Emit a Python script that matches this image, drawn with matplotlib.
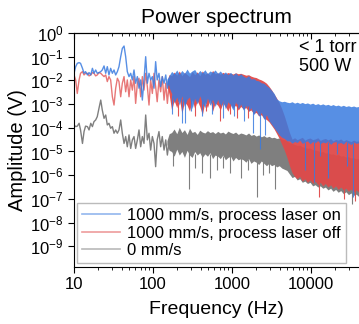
import numpy as np
import matplotlib
matplotlib.use('Agg')
import matplotlib.pyplot as plt
from matplotlib.lines import Line2D
from matplotlib.ticker import NullFormatter, FuncFormatter

plt.rcParams['font.family'] = ['Liberation Sans', 'DejaVu Sans']

# low frequency part (Hz), values are log10(amplitude / V)
low_f = [10.0, 10.5, 11.0, 11.6, 12.1, 12.8, 13.4, 14.0, 14.8, 15.5,
         16.3, 17.1, 17.9, 18.8, 19.7, 20.7, 21.8, 22.8, 24.0, 25.2,
         26.4, 27.7, 29.1, 30.6, 32.1, 33.7, 35.4, 37.1, 39.0, 40.9,
         43.0, 45.1, 47.3, 49.7, 52.2, 54.8, 57.5, 60.3, 63.4, 66.5,
         69.8, 73.3, 76.9, 80.8, 84.8, 89.0, 93.4, 98.1, 103, 108,
         113, 119, 125, 131, 138, 145, 152, 159]

on_low = [-1.70, -1.42, -1.28, -1.25, -1.28, -1.49, -1.70, -1.63, -1.77, -1.67,
          -1.77, -1.49, -1.70, -1.56, -1.70, -1.67, -1.63, -1.56, -1.39, -1.70,
          -1.42, -1.77, -1.49, -1.70, -1.56, -1.77, -1.63, -1.42, -1.00, -0.65,
          -0.55, -1.00, -1.63, -1.84, -1.70, -1.98, -1.56, -2.12, -1.84, -2.33,
          -1.98, -2.83, -1.98, -1.00, -2.12, -1.70, -1.98, -1.84, -2.33, -1.21,
          -1.98, -1.70, -2.26, -1.84, -2.12, -1.77, -2.33, -1.98]

off_low = [-1.77, -1.98, -2.55, -1.98, -1.70, -1.63, -1.77, -1.70, -1.70, -1.81,
           -1.77, -1.67, -1.70, -1.81, -1.77, -1.67, -1.70, -1.77, -1.84, -1.77,
           -2.05, -1.84, -1.98, -2.69, -3.04, -2.33, -1.91, -2.05, -2.69, -2.12,
           -1.84, -2.48, -1.98, -2.69, -1.98, -2.41, -1.84, -2.97, -2.12, -1.91,
           -2.69, -1.84, -2.41, -1.70, -2.26, -3.04, -1.98, -2.55, -1.70, -2.26,
           -2.90, -1.98, -2.48, -1.84, -2.83, -2.12, -2.97, -2.26]

zero_low = [-3.88, -3.95, -3.93, -3.81, -4.09, -4.66, -4.16, -3.93, -3.95, -4.09,
            -3.81, -3.95, -3.74, -3.67, -3.53, -3.18, -2.83, -3.25, -3.60, -3.46,
            -3.88, -3.81, -4.02, -3.95, -4.23, -4.09, -4.23, -4.09, -3.67, -4.23,
            -4.66, -4.37, -4.80, -4.30, -4.87, -4.51, -4.37, -4.87, -4.51, -4.09,
            -4.80, -4.37, -4.66, -3.46, -4.51, -4.23, -4.94, -4.37, -4.66, -5.64,
            -4.51, -4.16, -4.80, -4.37, -4.94, -4.51, -5.15, -4.66]

# dense part: upper / lower edge of the noisy band
band_f = [150, 160, 172, 185, 200, 215, 232, 250, 270, 290,
          313, 337, 363, 391, 421, 454, 489, 527, 568, 612,
          660, 711, 766, 825, 889, 958, 1030, 1110, 1200, 1290,
          1390, 1500, 1620, 1740, 1880, 2020, 2180, 2350, 2530, 2730,
          2940, 3170, 3410, 3680, 3960, 4270, 4600, 4960, 5340, 5760,
          6200, 6690, 7200, 7760, 8370, 9020, 9720, 10500, 11300, 12200,
          13100, 14100, 15200, 16400, 17700, 19000, 20500, 22100, 23800, 25700,
          27700, 29800, 32100, 34600, 37300, 40200]

on_hi = [-1.95, -1.80, -1.62, -1.72, -1.56, -1.74, -1.58, -1.70, -1.52, -1.69,
         -1.60, -1.54, -1.72, -1.58, -1.68, -1.55, -1.71, -1.60, -1.66, -1.56,
         -1.70, -1.60, -1.74, -1.64, -1.76, -1.66, -1.78, -1.68, -1.80, -1.72,
         -1.82, -1.88, -1.80, -1.94, -1.92, -2.00, -2.02, -2.10, -2.12, -2.22,
         -2.30, -2.42, -2.55, -2.78, -2.86, -2.90, -2.88, -2.92, -2.94, -2.90,
         -2.96, -2.92, -2.97, -2.93, -2.98, -2.95, -3.00, -2.96, -3.02, -2.98,
         -3.03, -2.99, -3.04, -3.01, -3.06, -3.02, -3.07, -3.04, -3.09, -3.05,
         -3.10, -3.07, -3.11, -3.08, -3.12, -3.10]
on_lo = [-2.05, -2.30, -2.55, -2.95, -2.70, -3.05, -2.65, -3.10, -2.80, -2.70,
         -3.20, -2.75, -3.00, -2.65, -2.95, -3.15, -2.75, -3.05, -2.80, -3.10,
         -2.80, -3.15, -2.85, -3.20, -2.90, -3.05, -3.25, -2.90, -3.20, -3.00,
         -3.25, -3.05, -3.30, -3.15, -3.45, -3.25, -3.50, -3.35, -3.65, -3.45,
         -3.70, -3.85, -4.00, -4.15, -4.30, -4.40, -4.45, -4.55, -4.55, -4.65,
         -4.58, -4.62, -4.52, -4.66, -4.60, -4.55, -4.68, -4.58, -4.63, -4.54,
         -4.67, -4.60, -4.64, -4.56, -4.70, -4.61, -4.58, -4.66, -4.62, -4.69,
         -4.57, -4.65, -4.71, -4.60, -4.66, -4.63]

off_hi = [-2.05, -1.75, -1.80, -1.65, -1.78, -1.60, -1.80, -1.66, -1.75, -1.84,
          -1.62, -1.76, -1.64, -1.80, -1.60, -1.74, -1.68, -1.78, -1.58, -1.72,
          -1.68, -1.74, -1.66, -1.72, -1.67, -1.70, -1.73, -1.68, -1.72, -1.70,
          -1.74, -1.78, -1.76, -1.82, -1.86, -1.88, -1.94, -1.98, -2.04, -2.12,
          -2.25, -2.40, -2.58, -2.75, -2.95, -3.20, -3.50, -3.85, -4.20, -4.48,
          -4.42, -4.50, -4.45, -4.40, -4.52, -4.46, -4.43, -4.50, -4.47, -4.42,
          -4.53, -4.48, -4.45, -4.51, -4.46, -4.55, -4.49, -4.52, -4.47, -4.56,
          -4.50, -4.54, -4.58, -4.52, -4.57, -4.55]
off_lo = [-2.15, -2.60, -3.25, -2.85, -3.15, -2.75, -3.40, -2.90, -3.05, -3.30,
          -2.80, -3.20, -2.85, -3.10, -3.45, -2.90, -3.15, -2.80, -3.30, -2.95,
          -3.05, -3.25, -2.95, -3.10, -3.30, -3.00, -3.15, -3.05, -3.25, -3.10,
          -3.20, -3.15, -3.30, -3.25, -3.40, -3.35, -3.50, -3.45, -3.60, -3.65,
          -3.75, -3.90, -4.05, -4.25, -4.45, -4.70, -4.95, -5.25, -5.60, -5.90,
          -6.05, -6.15, -6.05, -6.25, -6.15, -6.30, -6.20, -6.35, -6.25, -6.40,
          -6.30, -6.45, -6.35, -6.50, -6.40, -6.55, -6.45, -6.60, -6.50, -6.62,
          -6.55, -6.68, -6.58, -6.70, -6.62, -6.72]

zero_hi = [-4.55, -4.25, -4.20, -4.05, -4.25, -3.98, -4.20, -4.08, -4.28, -4.02,
           -4.20, -4.15, -4.28, -4.10, -4.18, -4.22, -4.12, -4.20, -4.16, -4.24,
           -4.15, -4.22, -4.18, -4.26, -4.14, -4.20, -4.24, -4.18, -4.28, -4.22,
           -4.25, -4.30, -4.22, -4.32, -4.28, -4.35, -4.30, -4.38, -4.33, -4.40,
           -4.36, -4.42, -4.40, -4.45, -4.43, -4.48, -4.50, -4.55, -4.62, -4.66,
           -4.70, -4.74, -4.73, -4.80, -4.83, -4.86, -4.85, -4.92, -4.94, -4.96,
           -5.02, -5.00, -5.06, -5.05, -5.11, -5.10, -5.15, -5.13, -5.19, -5.18,
           -5.23, -5.22, -5.27, -5.26, -5.31, -5.30]
zero_lo = [-4.70, -4.95, -5.00, -5.20, -4.90, -5.15, -5.00, -5.25, -4.95, -5.15,
           -5.25, -5.00, -5.15, -5.05, -5.25, -5.10, -5.20, -5.05, -5.30, -5.15,
           -5.20, -5.30, -5.15, -5.35, -5.25, -5.20, -5.40, -5.25, -5.35, -5.30,
           -5.35, -5.45, -5.30, -5.50, -5.40, -5.45, -5.55, -5.40, -5.50, -5.60,
           -5.50, -5.60, -5.55, -5.65, -5.60, -5.70, -5.75, -5.80, -5.95, -6.10,
           -6.05, -6.20, -6.15, -6.30, -6.25, -6.35, -6.30, -6.45, -6.40, -6.50,
           -6.45, -6.55, -6.50, -6.62, -6.55, -6.68, -6.60, -6.72, -6.65, -6.78,
           -6.70, -6.82, -6.75, -6.85, -6.80, -6.90]

# single deep dips
on_spike_f = [175, 233, 254, 305, 420, 560, 780, 1050, 1400, 1840, 2250, 2600,
              8400, 10800, 13000, 16400, 21300, 28600, 34000]
on_spike_top = [-2.6, -2.8, -2.8, -2.8, -2.8, -2.9, -2.9, -3.0, -3.1, -3.3, -3.4, -3.5,
                -4.6, -4.6, -4.6, -4.6, -4.6, -4.6, -4.6]
on_spike_bot = [-3.4, -3.8, -3.8, -3.3, -3.5, -3.4, -3.6, -3.5, -3.7, -4.2, -4.9, -4.3,
                -5.8, -6.3, -5.2, -6.1, -5.1, -5.6, -6.9]
off_spike_f = [205, 340, 470, 700, 930, 1150, 1600, 12500, 26000, 36500]
off_spike_top = [-2.9, -2.9, -3.0, -3.0, -3.0, -3.0, -3.1, -6.3, -6.5, -6.6]
off_spike_bot = [-3.5, -3.5, -3.3, -3.7, -3.4, -3.6, -3.6, -6.9, -7.0, -7.1]
zero_spike_f = [180, 286, 340, 417, 525, 645, 780, 950, 1290, 1600, 2070, 2460, 2900, 3500, 33000]
zero_spike_top = [-5.0, -5.0, -5.1, -5.0, -5.1, -5.1, -5.2, -5.2, -5.2, -5.3, -5.3, -5.3, -5.4, -5.5, -6.7]
zero_spike_bot = [-5.6, -6.6, -5.7, -5.9, -6.1, -5.8, -5.7, -5.9, -6.1, -5.8, -6.9, -6.0, -5.9, -6.6, -7.2]

labels = ['1000 mm/s, process laser on', '1000 mm/s, process laser off', '0 mm/s']
c_on, c_off, c_zero = '#3a7be0', '#e04a4a', '#7f7f7f'

fig = plt.figure(figsize=(3.59, 3.24), dpi=100)
ax = fig.add_axes([74 / 359, 57 / 324, 285 / 359, 234 / 324])


def draw(low, hi, lo, sf, stop, sbot, color, a_line, a_band):
    ax.plot(low_f, 10 ** np.array(low), color=color, lw=1.0, alpha=a_line)
    ax.fill_between(band_f, 10 ** np.array(lo), 10 ** np.array(hi),
                    color=color, alpha=a_band, lw=0)
    ax.vlines(sf, 10 ** np.array(sbot), 10 ** np.array(stop),
              color=color, lw=0.8, alpha=a_band)


draw(zero_low, zero_hi, zero_lo, zero_spike_f, zero_spike_top, zero_spike_bot, c_zero, 1.0, 1.0)
draw(off_low, off_hi, off_lo, off_spike_f, off_spike_top, off_spike_bot, c_off, 0.75, 0.95)
draw(on_low, on_hi, on_lo, on_spike_f, on_spike_top, on_spike_bot, c_on, 0.85, 0.85)

ax.set_xscale('log')
ax.set_yscale('log')
ax.set_xlim(10, 10 ** (1 + 285 / 79))
ax.set_ylim(10 ** (-234 / 23.7), 1)
ax.set_yticks([10.0 ** k for k in range(-9, 1)])
ax.yaxis.set_minor_formatter(NullFormatter())
ax.xaxis.set_major_formatter(FuncFormatter(lambda v, p: f'{v:g}'))
ax.xaxis.set_minor_formatter(NullFormatter())
ax.tick_params(axis='both', which='major', labelsize=12, length=4, width=0.8, direction='out')
ax.tick_params(axis='y', which='minor', length=0)
ax.tick_params(axis='x', which='minor', length=2.5, width=0.6, direction='out')
ax.spines['right'].set_visible(False)

top = ax.secondary_xaxis('top')
top.tick_params(which='both', direction='in', labeltop=False)
top.tick_params(which='major', length=4)
top.tick_params(which='minor', length=2.5)
top.xaxis.set_minor_formatter(NullFormatter())

ax.set_title('Power spectrum', fontsize=15, pad=7)
ax.set_xlabel('Frequency (Hz)', fontsize=14, labelpad=6)
ax.set_ylabel('Amplitude (V)', fontsize=14.5, labelpad=2)

ax.text(0.79, 0.975, '< 1 torr\n500 W', transform=ax.transAxes, fontsize=13,
        va='top', ha='left', linespacing=1.2)

handles = [Line2D([], [], color=c, lw=1.2, alpha=0.55) for c in (c_on, c_off, c_zero)]
ax.legend(handles, labels, loc='lower left', bbox_to_anchor=(0.0105, 0.017),
          borderaxespad=0, fontsize=12, handlelength=2.3, handletextpad=0.4,
          labelspacing=0.15, borderpad=0.3, fancybox=False, framealpha=1,
          edgecolor='#bbbbbb')

fig.savefig('out.png', dpi=100)
